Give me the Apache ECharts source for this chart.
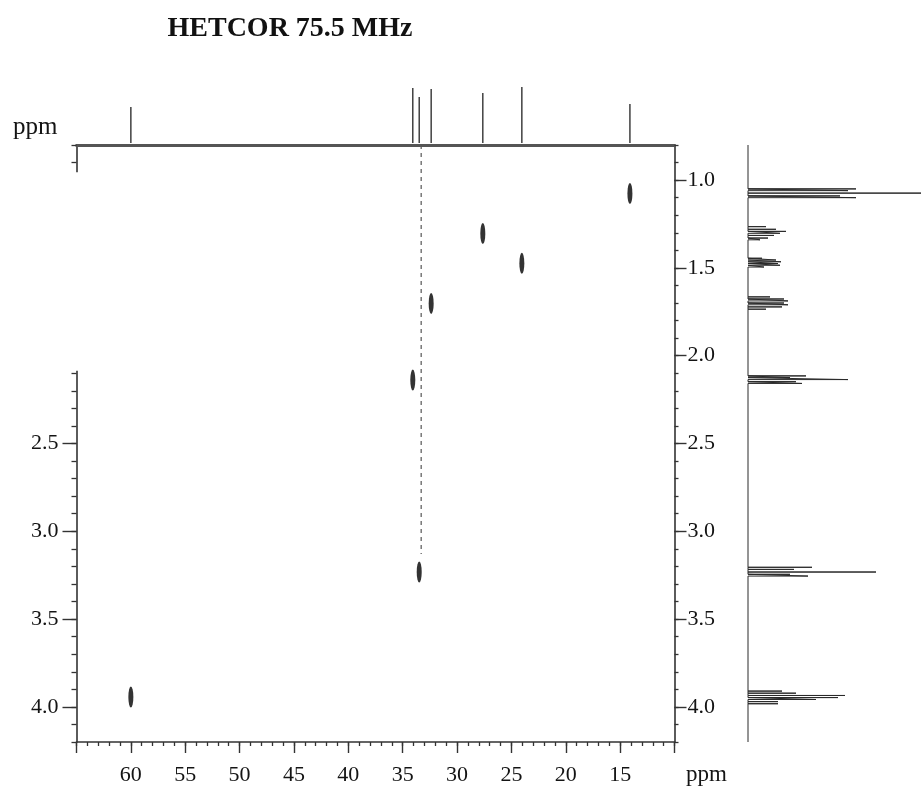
<!DOCTYPE html>
<html><head><meta charset="utf-8">
<script src="https://cdn.jsdelivr.net/npm/echarts@6/dist/echarts.min.js"></script>
<style>html,body{margin:0;padding:0;background:#fff}#c{width:921px;height:791px}</style>
</head><body><div id="c"></div>
<script>
// ---------- data ----------
const titleText = 'HETCOR 75.5 MHz';
const axisUnit = 'ppm';
// 13C (horizontal) axis
const carbonRange = [10, 65];
const carbonTickLabels = [15, 20, 25, 30, 35, 40, 45, 50, 55, 60];
// 1H (vertical) axis
const protonRange = [0.8, 4.2];
const protonTickValues = [1.0, 1.5, 2.0, 2.5, 3.0, 3.5, 4.0];
const protonLeftLabels = [2.5, 3.0, 3.5, 4.0];
// 13C 1D projection (top)
const carbonShifts = [60.0, 34.07, 33.48, 32.38, 27.63, 24.04, 14.1];
const carbonIntensity = [36, 55, 46, 54, 50, 56, 39];
// HETCOR cross peaks
const crossCarbon = [60.0, 34.07, 33.48, 32.38, 27.63, 24.04, 14.1];
const crossProton = [3.944, 2.139, 3.232, 1.702, 1.304, 1.474, 1.076];
// dashed guide line
const guideCarbon = 33.3;
const guideProton = [0.8, 3.13];
// 1H 1D projection (right)
const protonShifts = [
  1.050, 1.060, 1.074, 1.090, 1.100,
  1.265, 1.280, 1.292, 1.303, 1.315, 1.330, 1.340,
  1.445, 1.455, 1.465, 1.475, 1.485, 1.495,
  1.665, 1.677, 1.688, 1.700, 1.710, 1.722, 1.735,
  2.115, 2.125, 2.136, 2.148, 2.158,
  3.205, 3.217, 3.232, 3.245, 3.255,
  3.910, 3.922, 3.935, 3.947, 3.958, 3.970, 3.982
];
const protonIntensity = [
  108, 100, 178, 92, 108,
  18, 28, 38, 32, 26, 20, 12,
  14, 28, 33, 30, 32, 16,
  22, 36, 40, 36, 40, 34, 18,
  58, 42, 100, 48, 54,
  64, 46, 128, 42, 60,
  34, 48, 97, 90, 68, 30, 30
];

// ---------- build series data from arrays ----------
const carbonStickData = [];
carbonShifts.forEach((p, i) => {
  carbonStickData.push([p, 0], [p, carbonIntensity[i]], [p, 0], null);
});
const protonTraceData = [[0, protonRange[0]]];
protonShifts.forEach((p, i) => {
  protonTraceData.push([0, p], [protonIntensity[i], p], [0, p]);
});
protonTraceData.push([0, protonRange[1]]);
const crossData = crossCarbon.map((c, i) => [c, crossProton[i]]);
const guideData = guideProton.map(h => [guideCarbon, h]);

// ---------- styles ----------
const FONT = 'Liberation Serif';
const AX = '#333';
const labelStyle = { fontFamily: FONT, fontSize: 22, color: '#141414' };
const G = { left: 76.5, top: 145, width: 598, height: 597 };

const chart = echarts.init(document.getElementById('c'), null, { renderer: 'canvas' });
chart.setOption({
  animation: false,
  backgroundColor: '#fff',
  grid: [
    { left: G.left, top: G.top, width: G.width, height: G.height },
    { left: G.left, top: 77, width: G.width, height: 66 },
    { left: 748, top: G.top, width: 173, height: G.height }
  ],
  xAxis: [
    { // 0 bottom minor
      type: 'value', gridIndex: 0, position: 'bottom', inverse: true,
      min: carbonRange[0], max: carbonRange[1], interval: 1,
      axisLine: { show: true, lineStyle: { color: AX, width: 1.6 } },
      axisTick: { show: true, length: 4, lineStyle: { color: AX, width: 1.3 } },
      axisLabel: { show: false }, splitLine: { show: false }
    },
    { // 1 bottom major
      type: 'value', gridIndex: 0, position: 'bottom', inverse: true,
      min: carbonRange[0], max: carbonRange[1], interval: 5,
      axisLine: { show: false },
      axisTick: { show: true, length: 11, lineStyle: { color: AX, width: 1.4 } },
      axisLabel: Object.assign({ margin: 22,
        formatter: v => carbonTickLabels.indexOf(v) >= 0 ? String(v) : '' }, labelStyle),
      splitLine: { show: false }
    },
    { // 2 top border / 13C baseline
      type: 'value', gridIndex: 0, position: 'top', inverse: true,
      min: carbonRange[0], max: carbonRange[1],
      axisLine: { show: true, lineStyle: { color: '#555', width: 2.8 } },
      axisTick: { show: false }, axisLabel: { show: false }, splitLine: { show: false }
    },
    { // 3 top spectrum
      type: 'value', gridIndex: 1, inverse: true,
      min: carbonRange[0], max: carbonRange[1], show: false
    },
    { // 4 right spectrum intensity
      type: 'value', gridIndex: 2, min: 0, max: 173, show: false
    }
  ],
  yAxis: [
    { // 0 right minor
      type: 'value', gridIndex: 0, position: 'right', inverse: true,
      min: protonRange[0], max: protonRange[1], interval: 0.1,
      axisLine: { show: true, lineStyle: { color: AX, width: 1.6 } },
      axisTick: { show: true, length: 4, lineStyle: { color: AX, width: 1.3 } },
      axisLabel: { show: false }, splitLine: { show: false }
    },
    { // 1 right major
      type: 'value', gridIndex: 0, position: 'right', inverse: true,
      min: protonRange[0], max: protonRange[1],
      axisLine: { show: false },
      axisTick: { show: true, length: 12, customValues: protonTickValues, lineStyle: { color: AX, width: 1.4 } },
      axisLabel: Object.assign({ margin: 13, customValues: protonTickValues,
        formatter: v => v.toFixed(1) }, labelStyle),
      splitLine: { show: false }
    },
    { // 2 left minor
      type: 'value', gridIndex: 0, position: 'left', inverse: true,
      min: protonRange[0], max: protonRange[1], interval: 0.1,
      axisLine: { show: true, lineStyle: { color: AX, width: 1.6 } },
      axisTick: { show: true, length: 5, lineStyle: { color: AX, width: 1.3 } },
      axisLabel: { show: false }, splitLine: { show: false }
    },
    { // 3 left major
      type: 'value', gridIndex: 0, position: 'left', inverse: true,
      min: protonRange[0], max: protonRange[1],
      axisLine: { show: false },
      axisTick: { show: true, length: 14, customValues: protonTickValues, lineStyle: { color: AX, width: 1.4 } },
      axisLabel: Object.assign({ margin: 18, customValues: protonLeftLabels,
        formatter: v => v.toFixed(1) }, labelStyle),
      splitLine: { show: false }
    },
    { // 4 top spectrum intensity
      type: 'value', gridIndex: 1, min: 0, max: 66, show: false
    },
    { // 5 right spectrum ppm
      type: 'value', gridIndex: 2, inverse: true,
      min: protonRange[0], max: protonRange[1], show: false
    }
  ],
  series: [
    {
      name: '13C', type: 'line', xAxisIndex: 3, yAxisIndex: 4,
      data: carbonStickData, showSymbol: false, symbol: 'none', connectNulls: false,
      lineStyle: { color: '#333', width: 1.4 }, silent: true
    },
    {
      name: '1H', type: 'line', xAxisIndex: 4, yAxisIndex: 5,
      data: protonTraceData, showSymbol: false, symbol: 'none',
      lineStyle: { color: '#2a2a2a', width: 1 }, silent: true
    },
    {
      name: 'guide', type: 'line', xAxisIndex: 0, yAxisIndex: 0,
      data: guideData, showSymbol: false, symbol: 'none',
      lineStyle: { color: '#555', width: 1.2, type: [4, 4] }, silent: true
    },
    {
      name: 'cross', type: 'scatter', xAxisIndex: 0, yAxisIndex: 0,
      data: crossData, symbol: 'circle', symbolSize: [5, 21],
      itemStyle: { color: '#000' }, silent: true
    }
  ],
  graphic: [
    { type: 'text', x: 290, y: 29, z: 10,
      style: { text: titleText, fontFamily: FONT, fontWeight: 'bold', fontSize: 28,
               fill: '#111', align: 'center', verticalAlign: 'middle' } },
    { type: 'text', x: 13, y: 127, z: 10,
      style: { text: axisUnit, fontFamily: FONT, fontSize: 25, fill: '#141414',
               align: 'left', verticalAlign: 'middle' } },
    { type: 'text', x: 686, y: 775, z: 10,
      style: { text: axisUnit, fontFamily: FONT, fontSize: 23, fill: '#141414',
               align: 'left', verticalAlign: 'middle' } }
  ]
});

// the reference image has a blanked section of the left axis
const gapFrom = 0.955, gapTo = 2.085;
const yA = chart.convertToPixel({ yAxisIndex: 2 }, gapFrom);
const yB = chart.convertToPixel({ yAxisIndex: 2 }, gapTo);
const xL = chart.convertToPixel({ xAxisIndex: 0 }, carbonRange[1]);
chart.setOption({
  graphic: [{ id: 'gap', type: 'rect', z: 100,
    shape: { x: xL - 30, y: yA, width: 31.5, height: yB - yA },
    style: { fill: '#fff' } }]
});
</script>
</body></html>
